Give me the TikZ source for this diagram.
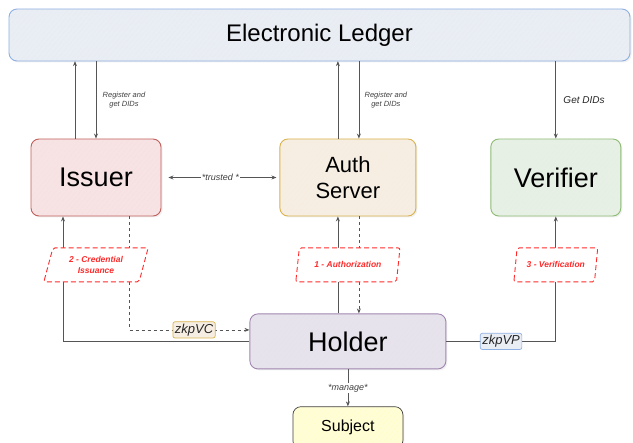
\documentclass[tikz,border=0pt]{standalone}
\usepackage{fontspec}
\setmainfont{Liberation Sans}
\usepackage{tikz}
\usetikzlibrary{positioning,arrows.meta,shapes.geometric,patterns.meta,shadows}

\definecolor{ledgerfill}{HTML}{E9EDF4}
\definecolor{ledgerline}{HTML}{8FB0E3}
\definecolor{issuerfill}{HTML}{F7E3E3}
\definecolor{issuerline}{HTML}{C0605C}
\definecolor{authfill}{HTML}{F7EEE3}
\definecolor{authline}{HTML}{D9B24A}
\definecolor{verifierfill}{HTML}{E7F0E5}
\definecolor{verifierline}{HTML}{8DBB74}
\definecolor{holderfill}{HTML}{E7E3EC}
\definecolor{holderline}{HTML}{A086B0}
\definecolor{subjectfill}{HTML}{FFFDD6}
\definecolor{phasered}{HTML}{FF2B2B}
\definecolor{wire}{HTML}{555555}

\begin{document}
\begin{tikzpicture}[
x=1pt, y=-1pt,
actor/.style={draw, rounded corners=8pt, line width=0.9pt, align=center,
  drop shadow={opacity=0.12, shadow xshift=1.5pt, shadow yshift=-1.5pt}},
hatch/.style 2 args={preaction={fill=#1}, pattern={Lines[angle=50, distance=4pt, line width=0.35pt]}, pattern color=#2},
phase/.style={trapezium, trapezium left angle=73, trapezium right angle=107, trapezium stretches=true,
  draw=phasered, dash pattern=on 5pt off 3pt, line width=0.9pt, fill=white, rounded corners=2pt,
  text=phasered, font=\fontsize{8.5}{11}\selectfont\bfseries\itshape, align=center, minimum height=34pt, inner sep=1pt},
tag/.style={draw, solid, rounded corners=2pt, line width=0.7pt, inner sep=2pt, font=\fontsize{13}{14}\selectfont\itshape, text=black!85},
lbl/.style={font=\fontsize{7.5}{9}\selectfont\itshape, text=black!75, align=center},
arr/.style={-{Stealth[length=5pt, width=4pt]}, draw=wire, line width=0.7pt}
]
\useasboundingbox (0,0) rectangle (633,443);

\node[actor, hatch={ledgerfill}{black!9}, draw=ledgerline, minimum width=621pt, minimum height=52pt,
  font=\fontsize{24}{28}\selectfont] (ledger) at (319.5,35) {Electronic Ledger};
\node[actor, hatch={issuerfill}{issuerline!25}, draw=issuerline, minimum width=130pt, minimum height=77pt,
  font=\fontsize{27}{30}\selectfont] (issuer) at (96,177.5) {Issuer};
\node[actor, hatch={authfill}{authline!25}, draw=authline, minimum width=136pt, minimum height=77pt,
  font=\fontsize{22}{26}\selectfont, right=118pt of issuer] (auth) {Auth\\Server};
\node[actor, hatch={verifierfill}{verifierline!28}, draw=verifierline, minimum width=130pt, minimum height=77pt,
  font=\fontsize{27}{30}\selectfont, right=74pt of auth] (verifier) {Verifier};
\node[actor, hatch={holderfill}{holderline!30}, draw=holderline, minimum width=196pt, minimum height=55pt,
  font=\fontsize{27}{30}\selectfont, below=97pt of auth] (holder) {Holder};
\node[actor, hatch={subjectfill}{yellow!45}, draw=black!75, line width=0.7pt, minimum width=110pt, minimum height=42pt,
  font=\fontsize{16}{19}\selectfont, below=37pt of holder] (subject) {Subject};

\draw[arr] ([xshift=-21pt]issuer.north) -- ([xshift=-21pt]issuer.north |- ledger.south);
\draw[arr] (ledger.south -| issuer.north) -- (issuer.north) node[midway, right=3pt, lbl] {Register and\\get DIDs};
\draw[arr] ([xshift=-10pt]auth.north) -- ([xshift=-10pt]auth.north |- ledger.south);
\draw[arr] ([xshift=11pt]auth.north |- ledger.south) -- ([xshift=11pt]auth.north) node[midway, right=2pt, lbl] {Register and\\get DIDs};
\draw[arr] (ledger.south -| verifier.north) -- (verifier.north) node[midway, right=4pt, lbl, font=\fontsize{10}{12}\selectfont\itshape, text=black!85] {Get DIDs};
\draw[arr, {Stealth[length=5pt, width=4pt]}-{Stealth[length=5pt, width=4pt]}, shorten <=7pt, shorten >=3pt] (issuer) -- (auth)
  node[midway, fill=white, inner sep=1pt, lbl, font=\fontsize{9}{11}\selectfont\itshape] {*trusted *};

\draw[arr] (holder.west) -| ([xshift=-33pt]issuer.south);
\draw[arr, dashed] ([xshift=33pt]issuer.south) |- ([yshift=11.5pt]holder.west)
  node[pos=0.77, tag, draw=authline, fill=authfill] {zkpVC};
\draw[arr] ([xshift=-10pt]holder.north) -- ([xshift=-10pt]auth.south);
\draw[arr, dashed] ([xshift=11pt]auth.south) -- ([xshift=11pt]holder.north);
\draw[arr] (holder.east) -| (verifier.south)
  node[pos=0.25, tag, draw=ledgerline, fill=ledgerfill] {zkpVP};
\draw[arr] (holder) -- (subject) node[midway, fill=white, inner sep=1pt, lbl, font=\fontsize{9}{11}\selectfont\itshape] {*manage*};

\node[phase, minimum width=105pt, below=31pt of issuer] (issuance) {2 - Credential\\Issuance};
\node[phase, minimum width=105pt, below=31pt of auth] (authz) {1 - Authorization};
\node[phase, minimum width=84pt, below=31pt of verifier] (verif) {3 - Verification};
\end{tikzpicture}
\end{document}
